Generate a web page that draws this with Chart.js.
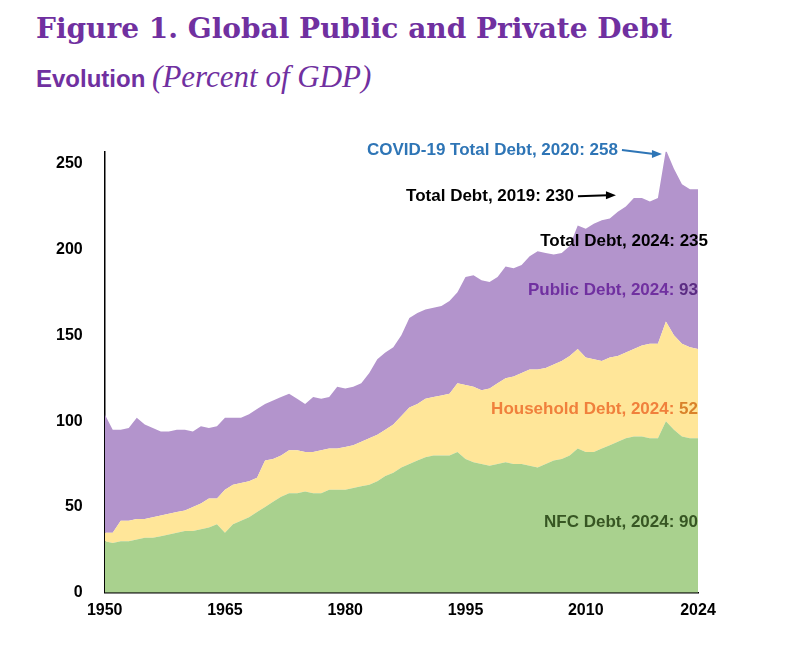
<!DOCTYPE html>
<html>
<head>
<meta charset="utf-8">
<script src="https://cdn.jsdelivr.net/npm/chart.js@4"></script>
<style>
  body { margin: 0; background: #fff; width: 796px; height: 672px; overflow: hidden; }
  #title { position: absolute; left: 36px; top: 12px; color: #7030a0; }
  #t1 { font-family: "DejaVu Serif", "Liberation Serif", serif; font-weight: bold; font-size: 28px; }
  #t2 { margin-top: 14px; font-size: 27px; }
  #t2 .a { font-family: "Liberation Sans", Arial, sans-serif; font-weight: bold; font-size: 24px; }
  #t2 .b { font-family: "Liberation Serif", serif; font-style: italic; font-size: 31px; }
  #wrap { position: absolute; left: 0; top: 120px; width: 796px; height: 508px; }
</style>
</head>
<body>
<div id="title">
  <div id="t1">Figure 1. Global Public and Private Debt</div>
  <div id="t2"><span class="a">Evolution</span> <span class="b">(Percent of GDP)</span></div>
</div>
<div id="wrap"><canvas id="debtChart"></canvas></div>
<script>
const years = [];
for (let y = 1950; y <= 2024; y++) years.push(y);

// levels (top edge of each band)
const nfc = [
    30,29,30,30,31,32,32,33,34,35,
    36,36,37,38,40,35,40,42,44,47,
    50,53,56,58,58,59,58,58,60,60,
    60,61,62,63,65,68,70,73,75,77,
    79,80,80,80,82,78,76,75,74,75,
    76,75,75,74,73,75,77,78,80,84,
    82,82,84,86,88,90,91,91,90,90,
    100,95,91,90,90
];
const nfcPlusHousehold = [
    35,35,42,42,43,43,44,45,46,47,
    48,50,52,55,55,60,63,64,65,67,
    77,78,80,83,83,82,82,83,84,84,
    85,86,88,90,92,95,98,103,108,110,
    113,114,115,116,122,121,120,118,119,122,
    125,126,128,130,130,131,133,135,138,142,
    137,136,135,137,138,140,142,144,145,145,
    158,150,145,143,142
];
const totalDebt = [
    104,95,95,96,102,98,96,94,94,95,
    95,94,97,96,97,102,102,102,104,107,
    110,112,114,116,113,110,114,113,114,120,
    119,120,122,128,136,140,143,150,160,163,
    165,166,167,170,175,184,185,182,181,184,
    190,189,191,196,199,198,197,198,202,214,
    212,215,217,218,222,225,230,230,228,230,
    258,247,238,235,235
];

const household = nfcPlusHousehold.map((v, i) => v - nfc[i]);
const publicDebt = totalDebt.map((v, i) => v - nfcPlusHousehold[i]);

const SHOWN = [1950, 1965, 1980, 1995, 2010, 2024];
const FONT = '"Liberation Sans", Arial, sans-serif';

const notes = {
    id: 'notes',
    afterDraw(chart) {
        const { ctx, chartArea, scales } = chart;
        const x = scales.x, y = scales.y;
        const R = chartArea.right;
        ctx.save();
        ctx.font = 'bold 17px ' + FONT;
        ctx.textBaseline = 'middle';

        function label(parts, right, yy) {
            let w = parts.reduce((s, p) => s + ctx.measureText(p[0]).width, 0);
            let cx = right - w;
            ctx.textAlign = 'left';
            parts.forEach(p => { ctx.fillStyle = p[1]; ctx.fillText(p[0], cx, yy); cx += ctx.measureText(p[0]).width; });
        }
        function arrow(x0, y0, x1, y1, color) {
            ctx.strokeStyle = color; ctx.fillStyle = color; ctx.lineWidth = 2;
            ctx.beginPath(); ctx.moveTo(x0, y0); ctx.lineTo(x1 - 8, y1); ctx.stroke();
            ctx.beginPath(); ctx.moveTo(x1, y1); ctx.lineTo(x1 - 10, y1 - 4); ctx.lineTo(x1 - 10, y1 + 4); ctx.closePath(); ctx.fill();
        }

        const px2020 = x.getPixelForValue(years.indexOf(2020));
        const yCovid = y.getPixelForValue(258);
        label([['COVID-19 Total Debt, 2020: 258', '#2e75b6']], px2020 - 48, yCovid);
        arrow(px2020 - 44, yCovid, px2020 - 4, yCovid + 4, '#2e75b6');

        const yPre = y.getPixelForValue(231);
        label([['Total Debt, 2019: 230', '#000']], px2020 - 92, yPre);
        arrow(px2020 - 88, yPre, px2020 - 50, yPre - 1, '#000');

        label([['Total Debt, 2024: ', '#000'], ['235', '#000']], R + 10, y.getPixelForValue(205));
        label([['Public Debt, 2024: ', '#7030a0'], ['93', '#5b2c83']], R, y.getPixelForValue(176));
        label([['Household Debt, 2024: ', '#f0803c'], ['52', '#d9822b']], R, y.getPixelForValue(107));
        label([['NFC Debt, 2024: ', '#375623'], ['90', '#375623']], R, y.getPixelForValue(41));
        ctx.restore();
    }
};

new Chart(document.getElementById('debtChart'), {
    type: 'line',
    data: {
        labels: years,
        datasets: [
            { label: 'NFC Debt', data: nfc, backgroundColor: '#a9d18e', fill: 'origin' },
            { label: 'Household Debt', data: household, backgroundColor: '#ffe699', fill: '-1' },
            { label: 'Public Debt', data: publicDebt, backgroundColor: '#b394cc', fill: '-1' }
        ].map(d => Object.assign(d, { borderWidth: 0, pointRadius: 0, tension: 0, stack: 's' }))
    },
    options: {
        responsive: true,
        maintainAspectRatio: false,
        animation: false,
        layout: { padding: { left: 34, right: 98, top: 0, bottom: 0 } },
        plugins: { legend: { display: false }, tooltip: { enabled: false } },
        scales: {
            x: {
                offset: false,
                grid: { display: false, drawTicks: false },
                border: { color: '#000', width: 1.5 },
                ticks: {
                    autoSkip: false, maxRotation: 0, padding: 8,
                    color: '#000', font: { family: FONT, size: 16, weight: 'bold' },
                    callback: (v, i) => SHOWN.includes(years[i]) ? String(years[i]) : ''
                }
            },
            y: {
                stacked: true, min: 0, max: 257,
                afterBuildTicks: ax => { ax.ticks = [0, 50, 100, 150, 200, 250].map(v => ({ value: v })); },
                grid: { display: false, drawTicks: false },
                border: { color: '#000', width: 1.5 },
                ticks: { padding: 22, color: '#000', font: { family: FONT, size: 16, weight: 'bold' } }
            }
        }
    },
    plugins: [notes]
});
</script>
</body>
</html>
